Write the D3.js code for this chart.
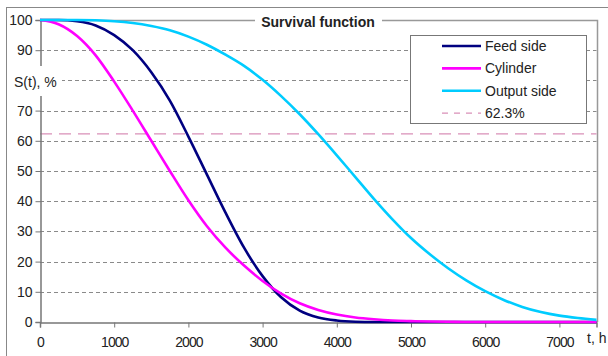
<!DOCTYPE html>
<html>
<head>
<meta charset="utf-8">
<script src="https://cdn.jsdelivr.net/npm/d3@7"></script>
<style>
  body { margin: 0; background: #fff; }
  text { font-family: "Liberation Sans", Arial, sans-serif; fill: #222; }
</style>
</head>
<body>
<div class="result"></div>
<script>
const hours = [0, 250, 500, 750, 1000, 1250, 1500, 1750, 2000, 2250, 2500, 2750, 3000, 3250, 3500, 3750,
  4000, 4250, 4500, 4750, 5000, 5250, 5500, 5750, 6000, 6250, 6500, 6750, 7000, 7250, 7500];
const feedSide = [100, 100, 99.6, 98.2, 95.0, 90.0, 82.7, 73.3, 61.4, 48.8, 36.2, 24.6, 15.2, 8.2, 3.8, 1.5,
  0.5, 0.1, 0, 0, 0, 0, 0, 0, 0, 0, 0, 0, 0, 0, 0];
const cylinder = [100, 98.6, 94.7, 88.3, 79.6, 70.0, 60.0, 50.0, 40.3, 31.7, 24.6, 18.7, 13.6, 9.4, 6.2, 4.0,
  2.5, 1.5, 0.9, 0.5, 0.3, 0.15, 0.08, 0, 0, 0, 0, 0, 0, 0, 0];
const outputSide = [100, 100, 100, 99.9, 99.6, 99.0, 98.0, 96.6, 94.5, 91.8, 88.5, 84.8, 80.2, 74.8, 68.8, 62.2,
  55.2, 48.0, 40.8, 34.0, 27.8, 22.5, 17.8, 13.7, 10.2, 7.3, 5.0, 3.3, 2.1, 1.3, 0.7];
const seriesNames = ['Feed side', 'Cylinder', 'Output side'];
const refLevel = 62.3;
const xTicks = [0, 1000, 2000, 3000, 4000, 5000, 6000, 7000];
const yTicks = [0, 10, 20, 30, 40, 50, 60, 70, 80, 90, 100];

const w = 608;
const h = 356;
const colors = ['#000080', '#ff00ff', '#00ccff'];

const svg = d3.select('.result')
  .append('svg')
  .attr('width', w)
  .attr('height', h);

// outer chart frame
svg.append('rect')
  .attr('x', 6.5).attr('y', 7.5)
  .attr('width', 620).attr('height', 380)
  .attr('fill', '#fff')
  .attr('stroke', '#888');

const x = d3.scaleLinear().domain([0, 7500]).range([40, 596.5]);
const y = d3.scaleLinear().domain([0, 100]).range([322, 20]);

// gridlines
svg.append('g')
  .selectAll('line')
  .data(yTicks.filter(d => d > 0 && d < 100))
  .enter()
  .append('line')
  .attr('x1', x(0)).attr('x2', x(7500))
  .attr('y1', d => Math.round(y(d)) + 0.5)
  .attr('y2', d => Math.round(y(d)) + 0.5)
  .attr('stroke', '#8a8a8a')
  .attr('stroke-dasharray', '4,3');

// plot border top / right
svg.append('path')
  .attr('d', 'M' + x(0) + ',' + (Math.round(y(100)) + 0.5) + 'H' + (Math.round(x(7500)) + 0.5) + 'V' + y(0))
  .attr('fill', 'none')
  .attr('stroke', '#999')
  .attr('stroke-width', 1.5);

// reference level
svg.append('line')
  .attr('x1', x(0)).attr('x2', x(7500))
  .attr('y1', y(refLevel)).attr('y2', y(refLevel))
  .attr('stroke', '#d990b8')
  .attr('stroke-width', 1.2)
  .attr('stroke-dasharray', '12,7');

// axes
const yAxis = svg.append('g')
  .attr('transform', 'translate(' + (Math.round(x(0)) + 0.5) + ',0)')
  .call(d3.axisLeft(y).tickValues(yTicks).tickSize(5).tickPadding(3)
    .tickFormat(d => d === 80 ? '' : d));
const xAxis = svg.append('g')
  .attr('transform', 'translate(0,' + (Math.round(y(0)) + 0.5) + ')')
  .call(d3.axisBottom(x).tickValues(xTicks).tickSize(5).tickPadding(10)
    .tickFormat(d3.format('d')));

[yAxis, xAxis].forEach(ax => {
  ax.select('.domain').attr('stroke', '#777').attr('stroke-width', 1.5);
  ax.selectAll('.tick line').attr('stroke', '#777');
  ax.selectAll('text').attr('font-size', 14).attr('fill', '#222')
    .attr('font-family', '"Liberation Sans", Arial, sans-serif');
});
xAxis.selectAll('text').attr('letter-spacing', -1);

// y axis label, sits on a white patch over the axis
svg.append('rect')
  .attr('x', 9).attr('y', 66).attr('width', 53).attr('height', 30)
  .attr('fill', '#fff');
svg.append('text')
  .attr('x', 14).attr('y', 87)
  .attr('font-size', 14)
  .text('S(t), %');

svg.append('text')
  .attr('x', 587).attr('y', 343)
  .attr('font-size', 14)
  .text('t, h');

// curves
const line = d3.line()
  .x((d, i) => x(hours[i]))
  .y(d => y(d))
  .curve(d3.curveMonotoneX);

[feedSide, cylinder, outputSide].forEach((s, i) => {
  svg.append('path')
    .datum(s)
    .attr('fill', 'none')
    .attr('stroke', colors[i])
    .attr('stroke-width', 2.6)
    .attr('d', line);
});

// title
svg.append('rect')
  .attr('x', 255).attr('y', 12).attr('width', 127).attr('height', 18)
  .attr('fill', '#fff');
svg.append('text')
  .attr('x', 318).attr('y', 27)
  .attr('text-anchor', 'middle')
  .attr('font-size', 14)
  .attr('font-weight', 'bold')
  .text('Survival function');

// legend
const legend = svg.append('g');
legend.append('rect')
  .attr('x', 410.5).attr('y', 35.5).attr('width', 176).attr('height', 88)
  .attr('fill', '#fff')
  .attr('stroke', '#777');

const items = seriesNames.concat([refLevel + '%']);
const rows = legend.selectAll('g.item')
  .data(items)
  .enter()
  .append('g')
  .attr('class', 'item')
  .attr('transform', (d, i) => 'translate(0,' + (46 + i * 22.4) + ')');

rows.append('line')
  .attr('x1', 442).attr('x2', 481)
  .attr('stroke', (d, i) => i < 3 ? colors[i] : '#d990b8')
  .attr('stroke-width', (d, i) => i < 3 ? 2.6 : 1.2)
  .attr('stroke-dasharray', (d, i) => i < 3 ? null : '6,6');

rows.append('text')
  .attr('x', 485).attr('y', 5)
  .attr('font-size', 14)
  .text(d => d);
</script>
</body>
</html>
